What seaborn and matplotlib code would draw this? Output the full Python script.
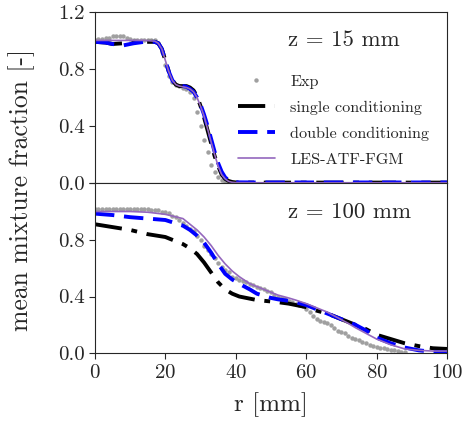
import numpy as np
import matplotlib
matplotlib.use('Agg')
import matplotlib.pyplot as plt
import seaborn as sns

# ---- z = 15 mm ----
r_exp15 = [0, 1, 2, 3, 4, 5, 6, 7, 8, 9, 10, 11, 12, 13, 14, 15, 16, 17, 18, 19,
           20, 21, 22, 23, 24, 25, 26, 27, 28, 29, 30, 31, 32, 33, 34, 35, 36, 37, 38, 39, 40]
z_exp15 = [1.00, 1.01, 1.01, 1.02, 1.02, 1.03, 1.03, 1.03, 1.03, 1.02, 1.01, 1.00, 1.00, 1.00, 1.00, 1.00, 1.00, 1.00, 0.98, 0.92,
           0.83, 0.75, 0.71, 0.69, 0.68, 0.67, 0.66, 0.64, 0.60, 0.50, 0.40, 0.30, 0.22, 0.13, 0.08, 0.04, 0.02, 0.01, 0.01, 0.00, 0.00]

r_sim15 = [0, 3, 5, 8, 11, 14, 17, 18, 19, 20, 21, 22, 23, 24, 25, 26, 27, 28, 29,
           30, 31, 32, 33, 34, 35, 36, 37, 38, 39, 40, 45, 60, 80, 100]
single15 = [0.99, 0.985, 0.975, 0.98, 0.99, 0.99, 0.99, 0.98, 0.94, 0.86, 0.78, 0.72, 0.69, 0.68, 0.68, 0.68, 0.67, 0.65, 0.61,
            0.54, 0.46, 0.37, 0.28, 0.19, 0.12, 0.06, 0.03, 0.015, 0.008, 0.005, 0.004, 0.004, 0.004, 0.004]
double15 = [0.99, 0.985, 0.975, 0.965, 0.98, 0.99, 0.99, 0.98, 0.94, 0.86, 0.78, 0.72, 0.69, 0.68, 0.68, 0.675, 0.66, 0.64, 0.60,
            0.55, 0.48, 0.40, 0.31, 0.22, 0.14, 0.08, 0.04, 0.02, 0.01, 0.006, 0.005, 0.005, 0.005, 0.005]
les15 = [1.00, 1.00, 1.00, 1.00, 1.00, 1.00, 0.995, 0.98, 0.94, 0.86, 0.78, 0.72, 0.69, 0.68, 0.675, 0.67, 0.66, 0.64, 0.60,
         0.54, 0.47, 0.38, 0.29, 0.20, 0.12, 0.06, 0.03, 0.012, 0.006, 0.004, 0.003, 0.003, 0.003, 0.003]

# ---- z = 100 mm ----
r_exp100 = list(range(0, 89))
z_exp100 = [1.02, 1.02, 1.02, 1.02, 1.02, 1.02, 1.02, 1.02, 1.02, 1.02,
            1.02, 1.02, 1.02, 1.02, 1.02, 1.02, 1.01, 1.01, 1.01, 1.00,
            1.00, 0.99, 0.97, 0.96, 0.94, 0.92, 0.90, 0.88, 0.86, 0.83,
            0.80, 0.76, 0.73, 0.70, 0.67, 0.64, 0.61, 0.59, 0.57, 0.54,
            0.53, 0.52, 0.51, 0.50, 0.49, 0.48, 0.47, 0.46, 0.45, 0.44,
            0.43, 0.41, 0.40, 0.39, 0.38, 0.37, 0.36, 0.35, 0.34, 0.33,
            0.31, 0.29, 0.26, 0.24, 0.23, 0.22, 0.21, 0.20, 0.18, 0.16,
            0.15, 0.14, 0.12, 0.11, 0.10, 0.09, 0.08, 0.07, 0.06, 0.05,
            0.045, 0.04, 0.035, 0.03, 0.025, 0.02, 0.015, 0.01, 0.008]

r_sim100 = [0, 5, 10, 15, 20, 25, 27, 29, 31, 33, 35, 37, 39, 41, 44, 46, 50, 52, 55, 57,
            60, 63, 66, 69, 72, 74, 77, 80, 84, 88, 92, 96, 100]
single100 = [0.91, 0.89, 0.87, 0.84, 0.82, 0.77, 0.74, 0.70, 0.64, 0.57, 0.50, 0.45, 0.42, 0.40, 0.385, 0.375, 0.365, 0.36, 0.35, 0.34,
             0.325, 0.30, 0.28, 0.25, 0.22, 0.20, 0.17, 0.13, 0.10, 0.07, 0.05, 0.035, 0.03]
double100 = [0.985, 0.975, 0.96, 0.95, 0.94, 0.90, 0.87, 0.83, 0.78, 0.71, 0.63, 0.56, 0.52, 0.49, 0.45, 0.42, 0.39, 0.38, 0.37, 0.36,
             0.34, 0.31, 0.28, 0.25, 0.22, 0.20, 0.16, 0.11, 0.07, 0.04, 0.02, 0.01, 0.006]
les100 = [1.00, 1.00, 1.00, 0.995, 0.98, 0.95, 0.91, 0.87, 0.82, 0.76, 0.69, 0.63, 0.58, 0.54, 0.49, 0.47, 0.43, 0.41, 0.39, 0.375,
          0.35, 0.32, 0.29, 0.25, 0.21, 0.18, 0.14, 0.10, 0.06, 0.03, 0.02, 0.015, 0.015]

labels = ['Exp', 'single conditioning', 'double conditioning', 'LES-ATF-FGM']

sns.set_style('ticks')
plt.rcParams['font.family'] = 'serif'
plt.rcParams['font.serif'] = ['cmr10', 'DejaVu Serif']
plt.rcParams['mathtext.fontset'] = 'cm'
plt.rcParams['axes.formatter.use_mathtext'] = True
plt.rcParams['axes.unicode_minus'] = False

fig = plt.figure(figsize=(4.70, 4.24), dpi=100)
ax1 = fig.add_axes([0.202, 0.568, 0.749, 0.404])
ax2 = fig.add_axes([0.202, 0.167, 0.749, 0.401], sharex=ax1)


def draw(ax, r_exp, z_exp, r_sim, single, double, les):
    sns.lineplot(x=r_exp, y=z_exp, ax=ax, color='#a0a0a0', linestyle='', marker='o',
                 markersize=3.2, markeredgewidth=0, label=labels[0], sort=False)
    sns.lineplot(x=r_sim, y=single, ax=ax, color='black', linewidth=2.8, label=labels[1], sort=False)
    sns.lineplot(x=r_sim, y=double, ax=ax, color='blue', linewidth=2.8, label=labels[2], sort=False)
    sns.lineplot(x=r_sim, y=les, ax=ax, color='#9467bd', linewidth=1.2, label=labels[3], sort=False)
    ax.lines[1].set_dashes([7, 2.5, 1.5, 2.5])
    ax.lines[2].set_dashes([5, 2.5])
    ax.set_ylim(0, 1.2)
    ax.set_yticks([0.0, 0.4, 0.8, 1.2])
    ax.set_xlim(0, 100)
    ax.tick_params(labelsize=15, length=4)


draw(ax1, r_exp15, z_exp15, r_sim15, single15, double15, les15)
draw(ax2, r_exp100, z_exp100, r_sim100, single100, double100, les100)

ax1.set_yticklabels(['0.0', '0.4', '0.8', '1.2'])
ax2.set_yticklabels(['0.0', '0.4', '0.8', ''])
ax1.tick_params(axis='x', labelbottom=False, length=0)
ax2.set_xticks([0, 20, 40, 60, 80, 100])

ax1.legend(loc='lower left', bbox_to_anchor=(0.405, 0.095), frameon=False, fontsize=11.7,
           handlelength=2.3, labelspacing=0.72, handletextpad=0.95,
           borderpad=0, borderaxespad=0)
ax2.get_legend().remove()

ax1.text(0.548, 0.835, 'z = 15 mm', transform=ax1.transAxes, fontsize=16.5, ha='left', va='center')
ax2.text(0.548, 0.83, 'z = 100 mm', transform=ax2.transAxes, fontsize=16.5, ha='left', va='center')

ax2.set_xlabel('r [mm]', fontsize=18, labelpad=8)
fig.text(0.045, 0.552, 'mean mixture fraction [-]', rotation=90, fontsize=18.5, ha='center', va='center')
ax1.set_ylabel('')
ax2.set_ylabel('')

plt.savefig('out.png', dpi=100)
